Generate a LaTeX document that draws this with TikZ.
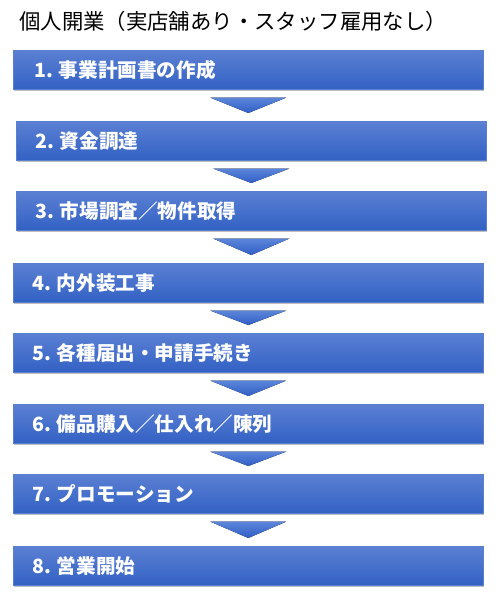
\documentclass[tikz,border=0pt]{standalone}
\usepackage{fontspec}
\setmainfont{Noto Sans CJK JP}
\usetikzlibrary{calc,shadows}
\definecolor{bartop}{HTML}{5B80D3}
\definecolor{barbot}{HTML}{3261C4}
\definecolor{barline}{HTML}{5A7FD0}
\definecolor{tritop}{HTML}{5C86DA}
\definecolor{tribot}{HTML}{2F5EC6}
\tikzset{
  stepbar/.style={rectangle, anchor=north west, minimum width=470pt, minimum height=39pt,
    top color=bartop, bottom color=barbot, draw=barline, line width=0.6pt,
    drop shadow={shadow xshift=0.8pt, shadow yshift=-1.8pt, fill=black, opacity=0.25}},
  bartext/.style={anchor=west, inner sep=0pt, text=white, font=\bfseries\fontsize{19.6}{22}\selectfont},
  flowtri/.style={top color=tritop, bottom color=tribot, draw=none},
  titletext/.style={anchor=base west, inner sep=0pt, text=black, font=\fontsize{21.4}{24}\selectfont}
}
\begin{document}
\begin{tikzpicture}[x=1pt,y=-1pt]
\useasboundingbox[fill=white] (0,0) rectangle (500,603);
\node[titletext] (title) at (19,29) {個人開業（実店舗あり・スタッフ雇用なし）};
\node[stepbar] (b1) at (13,50) {};
\node[stepbar] (b2) at (16,121) {};
\node[stepbar] (b3) at (16,191) {};
\node[stepbar] (b4) at (13,263) {};
\node[stepbar] (b5) at (13,333) {};
\node[stepbar] (b6) at (13,404) {};
\node[stepbar] (b7) at (13,474) {};
\node[stepbar] (b8) at (13,546) {};
\node[bartext] (t1) at ($(b1.west)+(21pt,0)$) {1. 事業計画書の作成};
\node[bartext] (t2) at ($(b2.west)+(19pt,0)$) {2. 資金調達};
\node[bartext] (t3) at ($(b3.west)+(19pt,0)$) {3. 市場調査／物件取得};
\node[bartext] (t4) at ($(b4.west)+(19pt,0)$) {4. 内外装工事};
\node[bartext] (t5) at ($(b5.west)+(19pt,0)$) {5. 各種届出・申請手続き};
\node[bartext] (t6) at ($(b6.west)+(19pt,0)$) {6. 備品購入／仕入れ／陳列};
\node[bartext] (t7) at ($(b7.west)+(19pt,0)$) {7. プロモーション};
\node[bartext] (t8) at ($(b8.west)+(19pt,0)$) {8. 営業開始};
\foreach \i/\j in {1/2,2/3,3/4,4/5,5/6,6/7,7/8}{
  \fill[flowtri] ($(b\i.south)+(-38pt,-8pt)$) -- ($(b\i.south)+(38pt,-8pt)$)
    -- ($(b\i.south |- b\j.north)+(0,8pt)$) -- cycle;
}
\end{tikzpicture}
\end{document}
